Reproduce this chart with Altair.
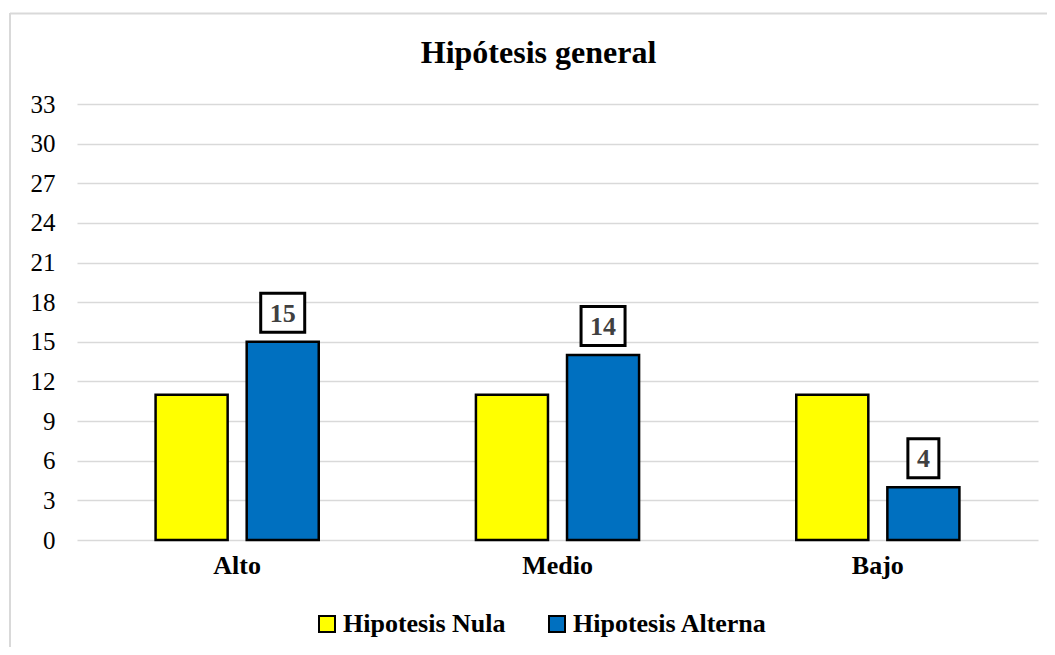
import altair as alt
import pandas as pd

categories = ["Alto", "Medio", "Bajo"]
series = ["Hipotesis Nula", "Hipotesis Alterna"]
nula_values = [11, 11, 11]
alterna_values = [15, 14, 4]
y_ticks = [0, 3, 6, 9, 12, 15, 18, 21, 24, 27, 30, 33]

rows = []
for c, n, a in zip(categories, nula_values, alterna_values):
    rows.append({"cat": c, "serie": series[0], "value": n})
    rows.append({"cat": c, "serie": series[1], "value": a})
df = pd.DataFrame(rows)

FONT = "Liberation Serif"

x_enc = alt.X("cat:N", sort=categories, title=None,
              scale=alt.Scale(paddingInner=0, paddingOuter=0),
              axis=alt.Axis(labelAngle=0, labelFontWeight="bold", labelFontSize=26,
                            labelColor="#000000", labelFont=FONT, ticks=False,
                            domain=False, labelPadding=12))
xo_enc = alt.XOffset("serie:N", sort=series,
                     scale=alt.Scale(paddingInner=0.209, paddingOuter=0.8626))
y_enc = alt.Y("value:Q", title=None,
              scale=alt.Scale(domain=[0, 33], nice=False),
              axis=alt.Axis(values=y_ticks, labelFontSize=25, labelColor="#000000",
                            labelFont=FONT, ticks=False, domain=False, labelOverlap=False,
                            labelPadding=22, gridColor="#d9d9d9", gridWidth=1.5))

bars = alt.Chart(df).mark_bar(stroke="#000000", strokeWidth=2.5).encode(
    x=x_enc,
    xOffset=xo_enc,
    y=y_enc,
    color=alt.Color("serie:N", sort=series,
                    scale=alt.Scale(domain=series, range=["#FFFF00", "#0070C0"]),
                    legend=alt.Legend(title=None, orient="none", direction="horizontal",
                                      legendX=237, legendY=507,
                                      symbolType="square", symbolSize=256,
                                      symbolStrokeColor="#000000", symbolStrokeWidth=2,
                                      labelFontSize=26, labelFontWeight="bold",
                                      labelFont=FONT, labelColor="#000000",
                                      labelLimit=400,
                                      columnPadding=38, labelOffset=3)),
)

alt_df = df[df["serie"] == series[1]]
base_lbl = alt.Chart(alt_df).encode(x=x_enc, xOffset=xo_enc, y=y_enc)
box2 = base_lbl.transform_filter("datum.value >= 10").mark_rect(
    width=44, height=39, yOffset=-29, fill="#ffffff", stroke="#000000", strokeWidth=3)
box1 = base_lbl.transform_filter("datum.value < 10").mark_rect(
    width=31, height=39, yOffset=-29, fill="#ffffff", stroke="#000000", strokeWidth=3)
text = base_lbl.mark_text(fontSize=26, fontWeight="bold", font=FONT, color="#404040",
                          yOffset=-28, baseline="middle").encode(text="value:Q")

border_top = alt.Chart(pd.DataFrame({"k": [0]})).mark_rule(
    color="#d9d9d9", strokeWidth=2).encode(
    x=alt.value(-67), x2=alt.value(978), y=alt.value(-90.5))
border_left = alt.Chart(pd.DataFrame({"k": [0]})).mark_rule(
    color="#d9d9d9", strokeWidth=2).encode(
    x=alt.value(-67), y=alt.value(-91), y2=alt.value(560))

chart = alt.layer(bars, box2, box1, text, border_top, border_left).properties(
    width=961, height=436,
    autosize=alt.AutoSizeParams(type="none"),
    padding={"left": 69, "top": 96, "right": 9, "bottom": 107},
    title=alt.TitleParams("Hipótesis general", font=FONT, fontSize=32, fontWeight="bold",
                          color="#000000", anchor="middle", dx=-19, offset=-58),
).configure_view(stroke=None).configure_axisY(
    labelFontSize=25, labelFont=FONT, labelColor="#000000", labelOverlap=False,
    labelPadding=22, ticks=False, domain=False, gridColor="#d9d9d9", gridWidth=1.5
).configure_axisX(
    labelFontSize=26, labelFont=FONT, labelFontWeight="bold", labelColor="#000000",
    ticks=False, domain=False, labelPadding=12
)

chart.save("out.html", embed_options={"renderer": "svg", "actions": False})
